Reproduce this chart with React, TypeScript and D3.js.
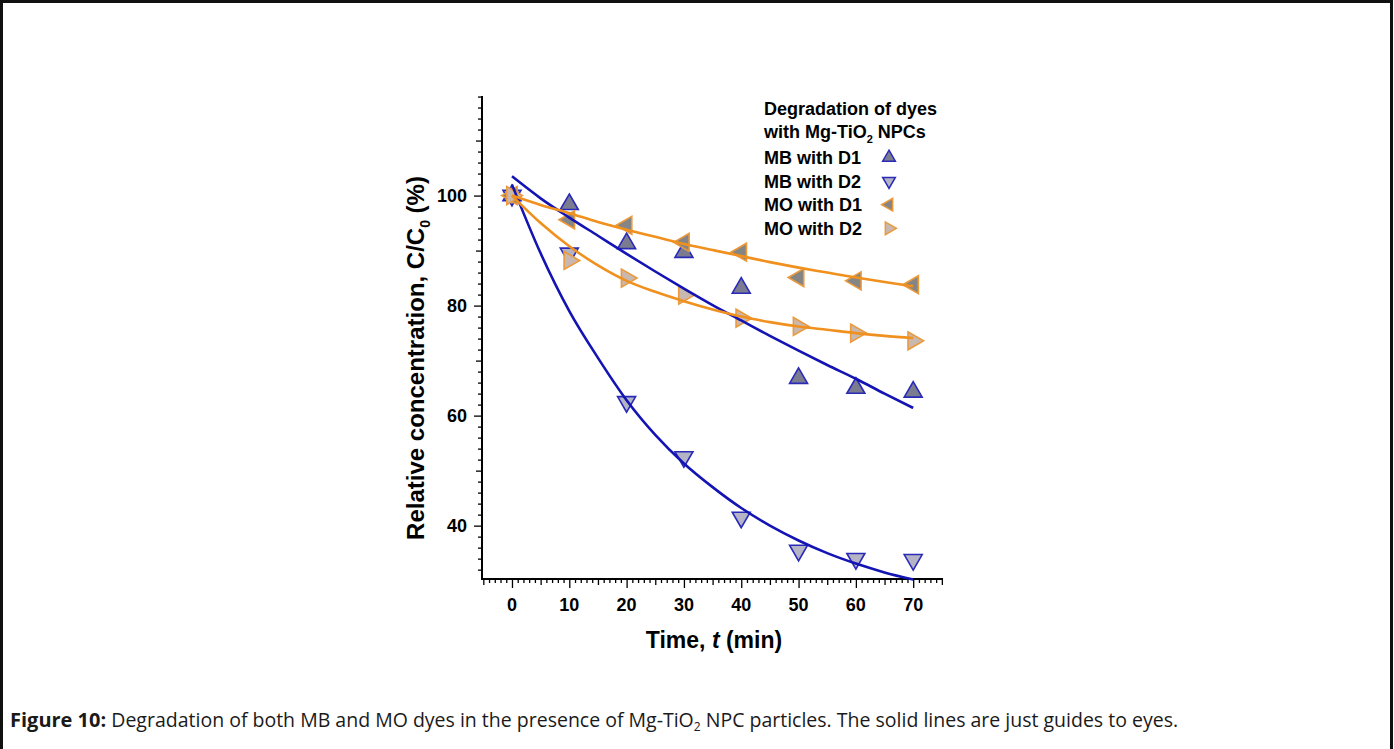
import React, { useEffect, useRef } from "react";
import * as d3 from "d3";

// sampling times (min)
const times = [0, 10, 20, 30, 40, 50, 60, 70];

// measured points, C/C0 (%)
const mbD1 = [100, 98.4, 91.3, 89.7, 83.2, 66.8, 65, 64.3];
const mbD2 = [100, 89.5, 62.5, 52.5, 41.5, 35.5, 34, 33.8];
const moD1 = [100, 95.6, 94.6, 91.5, 89.7, 85.1, 84.5, 83.8];
const moD2 = [100, 88.2, 85, 81.9, 77.7, 76.2, 75, 73.6];

// guide lines
const fitTimes = [0, 5, 10, 15, 20, 25, 30, 35, 40, 45, 50, 55, 60, 65, 70];
const fitMbD1 = [103.5, 99.5, 96, 92.7, 89.4, 86.2, 83.1, 80.1, 77.3, 74.5, 71.8, 69.2, 66.7, 64, 61.4];
const fitMbD2 = [102, 89.5, 79, 70.5, 62.8, 56.5, 51.3, 47, 43.2, 40, 37.3, 35, 33.1, 31.5, 30.2];
const fitMoD1 = [100, 98.3, 96.8, 95.2, 93.8, 92.5, 91.2, 90.1, 89, 87.9, 86.9, 86, 85.1, 84.3, 83.5];
const fitMoD2 = [100, 95, 90.8, 87.3, 84.5, 82.5, 80.8, 79.3, 78, 77, 76.2, 75.6, 75, 74.5, 74.1];

const xTicks = [0, 10, 20, 30, 40, 50, 60, 70];
const yTicks = [40, 60, 80, 100];

const legendTitle = ["Degradation of dyes", "with Mg-TiO", "2", " NPCs"];
const seriesNames = ["MB with D1", "MB with D2", "MO with D1", "MO with D2"];

const BLUE = "#1414b4";
const ORANGE = "#f0901e";

export default function App() {
  const ref = useRef<SVGSVGElement>(null);

  useEffect(() => {
    const svg = d3.select(ref.current);
    svg.selectAll("*").remove();

    const x = d3.scaleLinear().domain([-5.23, 75.2]).range([482, 943]);
    const y = d3.scaleLinear().domain([30.3, 118.1]).range([579, 96]);

    // frame
    svg.append("rect")
      .attr("x", 1.5).attr("y", 1.5)
      .attr("width", 1390).attr("height", 800)
      .attr("fill", "none").attr("stroke", "#111").attr("stroke-width", 3);

    const font = "'Liberation Sans', Arial, sans-serif";

    // axes
    const xAxis = d3.axisBottom(x)
      .tickValues(d3.range(-5, 76, 1))
      .tickSizeOuter(0)
      .tickSize(4)
      .tickFormat(() => "");
    const gx = svg.append("g").attr("transform", "translate(0,579)").call(xAxis);
    gx.selectAll("line").attr("stroke", "#000").attr("stroke-width", 1.3)
      .attr("y2", (d: any) => (d % 10 === 0 ? 9 : d % 5 === 0 ? 6 : 4));
    gx.select(".domain").attr("stroke", "#000").attr("stroke-width", 2)
      .attr("d", `M${482},0H${943}`);

    const yAxis = d3.axisLeft(y)
      .tickValues(d3.range(32, 119, 2))
      .tickSizeOuter(0)
      .tickSize(4)
      .tickFormat(() => "");
    const gy = svg.append("g").attr("transform", "translate(482,0)").call(yAxis);
    gy.selectAll("line").attr("stroke", "#000").attr("stroke-width", 1.3)
      .attr("x2", (d: any) => (d % 20 === 0 ? -8 : d % 10 === 0 ? -6 : -4));
    gy.select(".domain").attr("stroke", "#000").attr("stroke-width", 2)
      .attr("d", `M0,${96}V${580}`);

    svg.selectAll(".xlab").data(xTicks).enter().append("text")
      .attr("x", d => x(d)).attr("y", 611)
      .attr("text-anchor", "middle")
      .attr("font-family", font).attr("font-weight", "bold").attr("font-size", 18)
      .text(d => d);

    svg.selectAll(".ylab").data(yTicks).enter().append("text")
      .attr("x", 467).attr("y", d => y(d) + 6.5)
      .attr("text-anchor", "end")
      .attr("font-family", font).attr("font-weight", "bold").attr("font-size", 18)
      .text(d => d);

    const xt = svg.append("text")
      .attr("x", 714).attr("y", 648).attr("text-anchor", "middle")
      .attr("font-family", font).attr("font-weight", "bold").attr("font-size", 23);
    xt.append("tspan").text("Time, ");
    xt.append("tspan").attr("font-style", "italic").text("t");
    xt.append("tspan").text(" (min)");

    const yt = svg.append("text")
      .attr("transform", "translate(424,358) rotate(-90)")
      .attr("text-anchor", "middle")
      .attr("font-family", font).attr("font-weight", "bold").attr("font-size", 24);
    yt.append("tspan").text("Relative concentration, C/C");
    yt.append("tspan").attr("font-size", 14).attr("dy", 6).text("0");
    yt.append("tspan").attr("dy", -6).text(" (%)");

    // guide lines
    const line = (vals: number[]) =>
      d3.line<number>().x((_, i) => x(fitTimes[i])).y(d => y(d)).curve(d3.curveMonotoneX)(vals);

    const fits = [
      { v: fitMbD1, c: BLUE },
      { v: fitMbD2, c: BLUE },
      { v: fitMoD1, c: ORANGE },
      { v: fitMoD2, c: ORANGE },
    ];

    const series = [
      { v: mbD1, stroke: "#2a2ab8", fill: "#7c7c90", rot: 0 },
      { v: mbD2, stroke: "#2a2ab8", fill: "#b4b4c6", rot: 180 },
      { v: moD1, stroke: "#eb9a3c", fill: "#858585", rot: -90 },
      { v: moD2, stroke: "#eb9a3c", fill: "#c8b8b0", rot: 90 },
    ];

    const tri = d3.symbol().type(d3.symbolTriangle);

    // markers first, then lines over them like the source
    series.forEach(s => {
      svg.append("g").selectAll("path").data(s.v).enter().append("path")
        .attr("d", tri.size(140)() as string)
        .attr("transform", (d, i) => `translate(${x(times[i])},${y(d)}) rotate(${s.rot})`)
        .attr("fill", s.fill).attr("stroke", s.stroke).attr("stroke-width", 1.6)
        .attr("stroke-linejoin", "miter");
    });

    fits.forEach(f => {
      svg.append("path").attr("d", line(f.v) as string)
        .attr("fill", "none").attr("stroke", f.c).attr("stroke-width", 2.6);
    });

    // legend
    const lx = 764;
    svg.append("text").attr("x", lx).attr("y", 115)
      .attr("font-family", font).attr("font-weight", "bold").attr("font-size", 18)
      .text(legendTitle[0]);
    const l2 = svg.append("text").attr("x", lx).attr("y", 138)
      .attr("font-family", font).attr("font-weight", "bold").attr("font-size", 18);
    l2.append("tspan").text(legendTitle[1]);
    l2.append("tspan").attr("font-size", 11).attr("dy", 5).text(legendTitle[2]);
    l2.append("tspan").attr("dy", -5).text(legendTitle[3]);

    seriesNames.forEach((name, i) => {
      const yy = 164 + i * 23.6;
      svg.append("text").attr("x", lx).attr("y", yy)
        .attr("font-family", font).attr("font-weight", "bold").attr("font-size", 18)
        .text(name);
      const s = series[i];
      svg.append("path")
        .attr("d", tri.size(70)() as string)
        .attr("transform", `translate(${889},${yy - 6.5}) rotate(${s.rot})`)
        .attr("fill", s.fill).attr("stroke", s.stroke).attr("stroke-width", 1.5);
    });

    // caption
    const cap = svg.append("text").attr("x", 10).attr("y", 727)
      .attr("font-family", "'Open Sans', sans-serif").attr("font-size", 19.5)
      .attr("fill", "#1a1a1a");
    cap.append("tspan").attr("font-weight", "bold").attr("font-size", 20).text("Figure 10:");
    cap.append("tspan").text(" Degradation of both MB and MO dyes in the presence of Mg-TiO");
    cap.append("tspan").attr("font-size", 12).attr("dy", 4).text("2");
    cap.append("tspan").attr("dy", -4).text(" NPC particles. The solid lines are just guides to eyes.");
  }, []);

  return (
    <svg ref={ref} width={1394} height={749}
      style={{ position: "absolute", left: 0, top: 0, background: "#fff" }} />
  );
}
